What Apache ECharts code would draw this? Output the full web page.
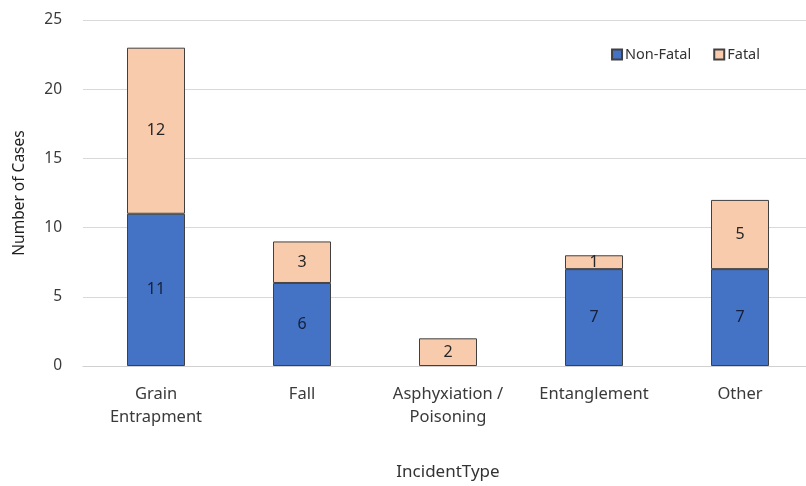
<!DOCTYPE html>
<html>
<head>
<meta charset="utf-8">
<script src="https://cdn.jsdelivr.net/npm/echarts@6/dist/echarts.min.js"></script>
<style>
  html, body { margin: 0; padding: 0; background: #fff; }
  #chart { width: 806px; height: 486px; }
</style>
</head>
<body>
<div id="chart"></div>
<script>
// Incident types on the category axis
const categories = ['Grain\nEntrapment', 'Fall', 'Asphyxiation /\nPoisoning', 'Entanglement', 'Other'];
// Case counts per outcome (null = no cases)
const nonFatal = [11, 6, null, 7, 7];
const fatal = [12, 3, 2, 1, 5];
// Value-axis range
const yMin = 0, yMax = 25, yStep = 5;

const font = 'Noto Sans';
const chart = echarts.init(document.getElementById('chart'));

const barStyle = (color) => ({ color: color, borderColor: '#404040', borderWidth: 1 });

chart.setOption({
  backgroundColor: '#fff',
  textStyle: { fontFamily: font },
  animation: false,
  grid: { left: 83, top: 20, width: 730, bottom: 120, outerBoundsMode: 'none', containLabel: false },
  legend: {
    top: 42, right: 41,
    itemWidth: 10, itemHeight: 10, itemGap: 22,
    icon: 'rect',
    textStyle: { fontFamily: font, fontSize: 14.5, color: '#333333', padding: [0, 0, 0, -2] },
    data: ['Non-Fatal', 'Fatal']
  },
  xAxis: {
    type: 'category',
    data: categories,
    name: 'IncidentType',
    nameLocation: 'middle',
    nameGap: 98,
    nameTextStyle: { fontFamily: font, fontSize: 17, color: '#333333' },
    axisLine: { lineStyle: { color: '#d0d0d0', width: 1 } },
    axisTick: { show: false },
    axisLabel: { fontFamily: font, fontSize: 16.5, color: '#3a3a3a', margin: 17, lineHeight: 23, interval: 0 }
  },
  yAxis: {
    type: 'value',
    min: yMin, max: yMax, interval: yStep,
    name: 'Number of Cases',
    nameLocation: 'middle',
    nameGap: 55,
    nameTextStyle: { fontFamily: font, fontSize: 15.5, color: '#1f1f1f' },
    axisLine: { show: false },
    axisTick: { show: false },
    axisLabel: { fontFamily: font, fontSize: 15.5, color: '#3a3a3a', margin: 21 },
    splitLine: { lineStyle: { color: '#d9d9d9', width: 1 } }
  },
  series: [
    {
      name: 'Non-Fatal', type: 'bar', stack: 'cases',
      data: nonFatal, barWidth: 58,
      itemStyle: barStyle('#4472c4'),
      label: { show: true, position: 'inside', fontFamily: font, fontSize: 16, color: '#14203a' }
    },
    {
      name: 'Fatal', type: 'bar', stack: 'cases',
      data: fatal, barWidth: 58,
      itemStyle: barStyle('#f8cbad'),
      label: { show: true, position: 'inside', fontFamily: font, fontSize: 16, color: '#262626' }
    }
  ]
});
</script>
</body>
</html>
